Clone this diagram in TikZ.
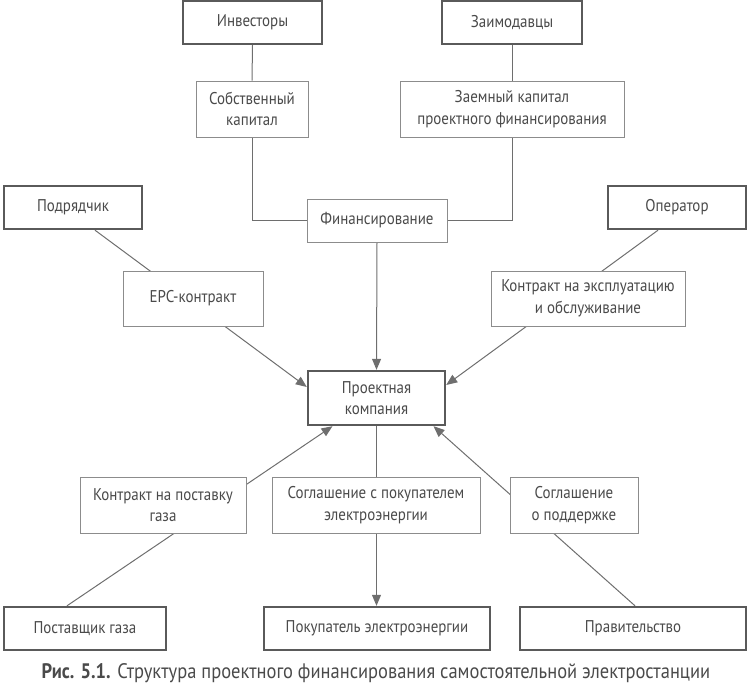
\documentclass[tikz,border=0pt]{standalone}
\usepackage{fontspec}
\setmainfont{PT Sans}[FakeStretch=0.88]
\usepackage{tikz}
\usetikzlibrary{arrows.meta}
\usetikzlibrary{backgrounds}

\definecolor{textgray}{HTML}{4A4A4A}
\definecolor{boxgray}{HTML}{5A5A5A}
\definecolor{thingray}{HTML}{8C8C8C}
\definecolor{linegray}{HTML}{6E6E6E}

\tikzset{
  party/.style={draw=boxgray, line width=2.4pt, fill=white, text=textgray,
    align=center, inner sep=2pt, minimum height=43pt},
  deal/.style={draw=thingray, line width=0.8pt, fill=white, text=textgray,
    align=center, inner sep=2pt, minimum height=56pt},
  link/.style={draw=linegray, line width=1pt},
  flow/.style={link, -{Triangle[length=11pt,width=9pt]}}
}

\begin{document}
\begin{tikzpicture}[x=1pt, y=-1pt, font=\fontsize{17}{21.5}\selectfont]
            \useasboundingbox (0,0) rectangle (750,691);

            % Финансирование
            \node[party, minimum width=139pt] (inv) at (252.5,22.5) {Инвесторы};
            \node[party, minimum width=140pt] (zaim) at (512,22.5) {Заимодавцы};
            \node[deal, minimum width=112pt] (sobst) at (252,109) {Собственный\\капитал};
            \node[deal, minimum width=224pt] (zaem) at (512,109) {Заемный капитал\\проектного финансирования};
            \node[deal, minimum width=140pt, minimum height=43pt] (fin) at (377,220.5) {Финансирование};

            % Строительство и эксплуатация
            \node[party, minimum width=138pt] (podr) at (73,207.5) {Подрядчик};
            \node[party, minimum width=138pt] (oper) at (677,207.5) {Оператор};
            \node[deal, minimum width=140pt, minimum height=55pt] (epc) at (193,298.5) {EPC-контракт};
            \node[deal, minimum width=194pt, minimum height=55pt] (expl) at (588,298.5) {Контракт на эксплуатацию\\и обслуживание};

            \node[party, minimum width=137pt, minimum height=54pt] (proj) at (376.5,398) {Проектная\\компания};

            % Договоры внизу
            \node[deal, minimum width=166pt] (gasc) at (163,505) {Контракт на поставку\\газа};
            \node[deal, minimum width=208pt] (buyc) at (376,505) {Соглашение с покупателем\\электроэнергии};
            \node[deal, minimum width=128pt] (supp) at (574,505) {Соглашение\\о поддержке};

            \node[party, minimum width=162pt] (gas) at (85,628.5) {Поставщик газа};
            \node[party, minimum width=226pt] (buyer) at (377,628.5) {Покупатель электроэнергии};
            \node[party, minimum width=226pt] (gov) at (633,628.5) {Правительство};

            \node[text=textgray, font=\fontsize{21}{25}\selectfont] (cap) at (376,673)
              {\textbf{Рис. 5.1.} Структура проектного финансирования самостоятельной электростанции};

            \begin{scope}[on background layer]
                \draw[link] (inv.south) -- (sobst.north);
                \draw[link] (zaim.south) -- (zaem.north);
                \draw[link] (sobst.south) |- (fin.west);
                \draw[link] (zaem.south) |- (fin.east);
                \draw[flow] (fin.south) -- (proj.north);

                \draw[flow] ([xshift=22pt]podr.south) -- ([yshift=11pt]proj.west);
                \draw[flow] ([xshift=-19pt]oper.south) -- ([yshift=13pt]proj.east);

                \draw[flow] ([xshift=-18pt]gas.north) -- ([xshift=-44pt]proj.south);
                \draw[flow] ([xshift=2pt]gov.north) -- ([xshift=57pt]proj.south);
                \draw[flow] (proj.south) -- (proj.south |- buyer.north);
            \end{scope}
        \end{tikzpicture}
\end{document}
